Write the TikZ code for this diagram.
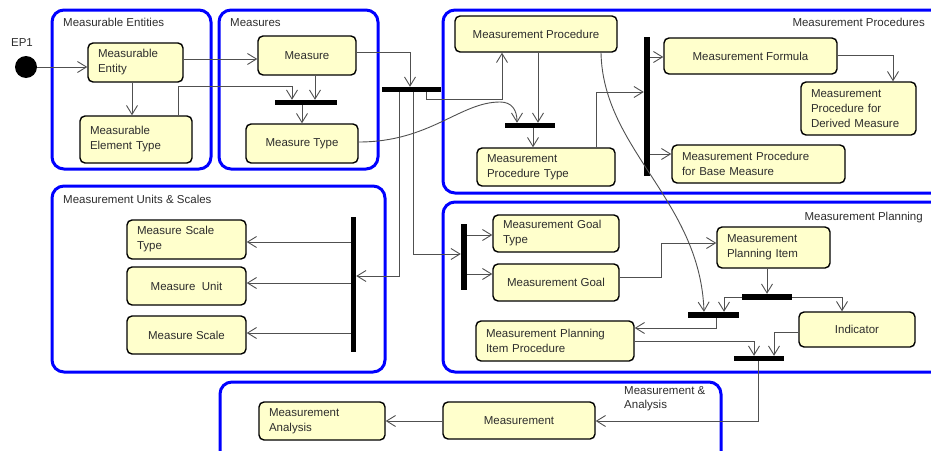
\documentclass[tikz,border=0pt]{standalone}
\usepackage{fontspec}
\setmainfont{Liberation Sans}
\usetikzlibrary{arrows.meta}
\definecolor{boxfill}{RGB}{255,255,204}
\definecolor{frameblue}{RGB}{0,0,255}
\definecolor{linegray}{RGB}{80,80,80}
\definecolor{txt}{RGB}{45,45,45}
\begin{document}
\begin{tikzpicture}[x=1pt,y=-1pt,
  font=\fontsize{11.5}{15}\selectfont,
  box/.style={draw=black, line width=1.4pt, rounded corners=5pt, fill=boxfill, inner sep=0pt, text=txt, align=center},
  cbox/.style 2 args={box, minimum width=#1, minimum height=#2},
  lbox/.style n args={3}{box, align=left, minimum width=#1, minimum height=#2, text width=#3},
  bar/.style 2 args={fill=black, inner sep=0pt, minimum width=#1, minimum height=#2},
  container/.style 2 args={draw=frameblue, line width=3pt, rounded corners=12pt, minimum width=#1, minimum height=#2, inner sep=0pt},
  lab/.style={text=txt, inner sep=0pt, font=\fontsize{11.5}{14}\selectfont},
  conn/.style={draw=linegray, line width=0.9pt, -{Straight Barb[length=9pt,width=11pt]}}
]
\useasboundingbox (0,0) rectangle (931,450);
\clip (0,0) rectangle (931,450);

% containers
\node[container={159}{159}] (cME) at (131.5,89.5) {};
\node[container={159}{159}] (cMS) at (298.5,89.5) {};
\node[container={502}{183}] (cMP) at (694,101.5) {};
\node[container={333}{186}] (cMU) at (218.5,279) {};
\node[container={502}{170}] (cPL) at (694,287) {};
\node[container={501}{88}] (cMA) at (470.5,426) {};

% container labels
\node[lab, anchor=base west] (tME) at (63,26) {Measurable Entities};
\node[lab, anchor=base west] (tMS) at (230,26) {Measures};
\node[lab, anchor=base east] (tMP) at (925,26) {Measurement Procedures};
\node[lab, anchor=base west] (tMU) at (63,203) {Measurement Units \& Scales};
\node[lab, anchor=base east] (tPL) at (923,220) {Measurement Planning};
\node[lab, anchor=west, align=left] (tMA) at (624,399) {Measurement \&\\Analysis};

% start
\node[lab] (tEP) at (22,43) {EP1};
\node[circle, fill=black, minimum size=22pt, inner sep=0pt] (ep) at (26,67) {};

% bars
\node[bar={62}{5}] (bMS) at (306,102.5) {};
\node[bar={59}{5}] (bBig) at (411.5,89.5) {};
\node[bar={50}{5}] (bMP) at (530,125.5) {};
\node[bar={6}{139}] (bMPv) at (647,106.5) {};
\node[bar={5}{135}] (bMU) at (353.5,284.5) {};
\node[bar={6}{66}] (bPL) at (464,257) {};
\node[bar={50}{6}] (bPI) at (767,297) {};
\node[bar={51}{6}] (bJ1) at (713.5,315) {};
\node[bar={50}{5}] (bJ3) at (759,358.5) {};

% boxes
\node[lbox={95}{39}{75pt}] (me) at (135.5,62.5) {Measurable\\Entity};
\node[lbox={112}{47}{92pt}] (met) at (136,139.5) {Measurable\\Element Type};
\node[cbox={98}{39}] (ms) at (307,55.5) {Measure};
\node[cbox={112}{39}] (mt) at (302,143.5) {Measure Type};
\node[cbox={162}{36}] (mp) at (536,34) {Measurement Procedure};
\node[lbox={138}{38}{118pt}] (mpt) at (546,167) {Measurement\\Procedure Type};
\node[cbox={173}{36}] (mf) at (750.5,56) {Measurement Formula};
\node[lbox={115}{53}{95pt}] (mpd) at (858.5,108.5) {Measurement\\Procedure for\\Derived Measure};
\node[lbox={173}{38}{153pt}] (mpb) at (758.5,164) {Measurement Procedure\\for Base Measure};
\node[lbox={119}{39}{99pt}] (mst) at (186.5,239.5) {Measure Scale\\Type};
\node[cbox={119}{38}] (mu) at (186.5,286) {Measure~\ Unit};
\node[cbox={119}{38}] (msc) at (186.5,335) {Measure Scale};
\node[lbox={126}{37}{106pt}] (mgt) at (556,233.5) {Measurement Goal\\Type};
\node[cbox={126}{37}] (mg) at (556,282.5) {Measurement Goal};
\node[lbox={113}{41}{93pt}] (mpi) at (773.5,247.5) {Measurement\\Planning Item};
\node[cbox={116}{35}] (ind) at (857,329.5) {Indicator};
\node[lbox={158}{40}{138pt}] (mpip) at (555,341) {Measurement Planning\\Item Procedure};
\node[cbox={152}{37}] (mmt) at (519,420.5) {Measurement};
\node[lbox={126}{38}{106pt}] (mma) at (322,421) {Measurement\\Analysis};

% connectors
\begin{scope}[on background layer/.style={}]
\draw[conn] (ep) -- (me.west |- ep);
\draw[conn] (me.east |- 0,59) -- (ms.west |- 0,59);
\draw[conn] (me.south -| 132,0) -- (met.north -| 132,0);
\draw[conn] (met.north -| 178,0) |- (292,86) -- (bMS.north -| 292,0);
\draw[conn] (ms.south -| 315,0) -- (bMS.north -| 315,0);
\draw[conn] (bMS.south -| 302,0) -- (mt.north -| 302,0);
\draw[conn] (ms.east |- 0,52) -| (bBig.north -| 410,0);
\draw[conn] (mt.east |- 0,142) .. controls (430,142) and (460,102) .. (500,102) .. controls (512,102) and (517,110) .. (bMP.north -| 517,0);
\draw[conn] (bBig.south -| 426,0) |- (502,99) -- (mp.south -| 502,0);
\draw[conn] (mp.south -| 538,0) -- (bMP.north -| 538,0);
\draw[conn] (bMP.south -| 533,0) -- (mpt.north -| 533,0);
\draw[conn] (mpt.north -| 596,0) |- (bMPv.west |- 0,92);
\draw[conn] (bMPv.east |- 0,57) -- (mf.west |- 0,57);
\draw[conn] (bMPv.east |- 0,154) -- (mpb.west |- 0,154);
\draw[conn] (mf.east |- 0,55) -| (mpd.north -| 893,0);
\draw[conn] (mp.south -| 601,0) .. controls (603,150) and (700,200) .. (bJ1.north -| 704,0);
\draw[conn] (bBig.south -| 413,0) |- (bPL.west |- 0,254);
\draw[conn] (bBig.south -| 399,0) |- (bMU.east |- 0,276);
\draw[conn] (bMU.west |- 0,242) -- (mst.east |- 0,242);
\draw[conn] (bMU.west |- 0,283) -- (mu.east |- 0,283);
\draw[conn] (bMU.west |- 0,333) -- (msc.east |- 0,333);
\draw[conn] (bPL.east |- 0,235) -- (mgt.west |- 0,235);
\draw[conn] (bPL.east |- 0,274) -- (mg.west |- 0,274);
\draw[conn] (mg.east |- 0,277) -- (661,277) -- (661,243) -- (mpi.west |- 0,243);
\draw[conn] (mpi.south -| 767,0) -- (bPI.north -| 767,0);
\draw[conn] (bPI.west) -| (bJ1.north -| 724,0);
\draw[conn] (bPI.east) -| (ind.north -| 842,0);
\draw[conn] (bJ1.south -| 716,0) |- (mpip.east |- 0,328);
\draw[conn] (mpip.east |- 0,341) -| (bJ3.north -| 754,0);
\draw[conn] (ind.west |- 0,332) -| (bJ3.north -| 774,0);
\draw[conn] (bJ3.south -| 758,0) |- (mmt.east |- 0,421);
\draw[conn] (mmt.west |- 0,421) -- (mma.east |- 0,421);
\end{scope}
\end{tikzpicture}
\end{document}
